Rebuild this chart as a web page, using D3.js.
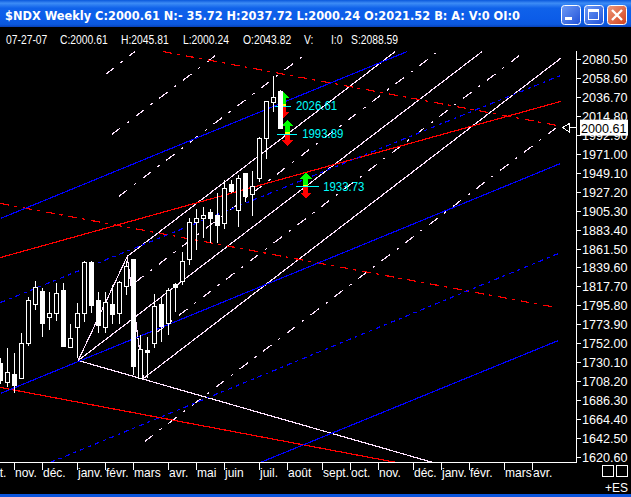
<!DOCTYPE html>
<html><head><meta charset="utf-8">
<script src="https://cdn.jsdelivr.net/npm/d3@7"></script>
<style>html,body{margin:0;padding:0;background:#000;overflow:hidden}svg{display:block}</style>
</head><body><svg id="c" width="631" height="497"></svg>
<script>
const titleText = "$NDX Weekly C:2000.61 N:- 35.72 H:2037.72 L:2000.24 O:2021.52 B: A: V:0 OI:0";
const headerItems = [["07-27-07",6],["C:2000.61",60],["H:2045.81",121],["L:2000.24",183],["O:2043.82",243],["V:",304],["I:0",331],["S:2088.59",351]];
const priceTicks = [2080.5,2058.6,2036.7,2014.8,1992.9,1971.0,1949.1,1927.2,1905.3,1883.4,1861.5,1839.6,1817.7,1795.8,1773.9,1752.0,1730.1,1708.2,1686.3,1664.4,1642.5,1620.6];
const monthLabels = ["oct.","nov.","déc.","janv.","févr.","mars","avr.","mai","juin","juil.","août","sept.","oct.","nov.","déc.","janv.","févr.","mars","avr."];
const monthIndex = [-2,2,6,11,15,19,24,28,32,37,41,46,50,54,59,63,67,72,76];
const opens = [1729.2,1707.3,1716.5,1711.9,1752.3,1797.4,1812.4,1782.4,1787.0,1813.6,1747.7,1770.8,1787.0,1845.9,1802.0,1770.8,1797.4,1787.0,1818.2,1849.4,1711.9,1744.2,1752.3,1797.4,1775.4,1820.5,1824.0,1849.4,1892.2,1896.8,1903.7,1900.2,1891.0,1936.1,1906.0,1948.8,1924.5,1943.0,1989.2,2030.8,2043.82];
const highs = [1735.0,1746.6,1740.8,1763.9,1805.5,1825.1,1815.9,1812.4,1822.8,1822.8,1775.4,1799.7,1847.1,1847.1,1811.3,1811.3,1819.4,1825.1,1848.2,1849.4,1761.6,1759.3,1809.0,1805.5,1815.9,1821.7,1857.5,1897.9,1907.2,1910.6,1907.2,1926.8,1941.8,1941.8,1947.6,1949.9,1952.2,1990.4,2033.1,2062.0,2045.81];
const lows = [1706.1,1702.6,1694.6,1711.9,1750.0,1790.5,1760.4,1767.4,1778.9,1748.9,1746.6,1735.0,1776.6,1787.0,1763.9,1765.0,1775.4,1775.4,1807.8,1715.4,1711.9,1711.9,1747.7,1753.5,1761.6,1788.2,1819.4,1843.6,1859.8,1874.8,1867.9,1867.9,1885.2,1925.7,1887.5,1915.3,1900.2,1939.5,1966.1,2019.3,2000.24];
const closes = [1709.6,1718.8,1703.8,1752.3,1802.0,1817.0,1775.4,1787.0,1810.1,1748.9,1758.1,1787.0,1845.9,1796.2,1773.1,1799.7,1785.8,1822.8,1841.3,1725.8,1745.4,1741.9,1795.1,1772.0,1813.6,1817.0,1847.1,1892.2,1896.8,1900.2,1896.8,1888.7,1931.4,1928.0,1943.0,1922.2,1933.8,1989.2,2032.0,2036.6,2000.61];
// Trend lines: [week index, price] end points
const redSolid = [[[0,1851.7],[80,2032.0]],[[0,1701.5],[56.6,1614.8]]];
const redDashed = [[[23.2,2089.7],[79.6,2004.2]],[[0,1914.1],[79.4,1793.9]]];
const blueSolid = [[[0,1896.8],[58.1,2089.7]],[[0,1694.6],[80,1960.3]],[[37.1,1614.8],[79.7,1755.8]]];
const blueDashed = [[[0,1799.7],[80,2062.0]],[[7.1,1614.8],[79.7,1856.3]]];
const forkSolid = [[[18.1,1852.9],[56.4,2089.7]],[[11.1,1732.7],[68.8,2089.7]],[[20.4,1711.9],[80,2081.7]],[[11.1,1732.7],[18.1,1852.9]],[[18.1,1852.9],[20.4,1711.9]],[[11.1,1732.7],[61.8,1614.8]]];
const forkDashed = [[[19.2,1822.8],[62.5,2089.7]],[[22.1,1763.9],[74.5,2087.4]],[[20.6,1639.1],[80,2005.4]],[[15,2063.2],[19.2,2089.7]],[[15.9,1993.8],[30.9,2086.3]],[[16.9,1922.2],[43.5,2086.3]]];
const markerIndex = [40.4,41,43.6];
const markerPrice = [2026.61,1993.89,1933.73];
const markerLineStart = [39.2,39.5,42.2];
const markerLineEnd = [41.5,42.4,45.5];
const markerLabelIndex = [42.2,43.1,46.1];
const lastPrice = 2000.61;

const FONT = "'Liberation Sans',Arial,sans-serif";
const svg = d3.select("#c");
const x = d3.scaleLinear().domain([0,80]).range([0.5,560.5]);
const y = d3.scaleLinear().domain([1620.6,2080.5]).range([457.5,59.5]);
const line = d3.line().x(d=>x(d[0])).y(d=>y(d[1]));
function narrow(sel,f){
  sel.each(function(){
    this.setAttribute("textLength",this.getComputedTextLength()*f);
    this.setAttribute("lengthAdjust","spacingAndGlyphs");
  });
}

// title bar
const defs = svg.append("defs");
const g = defs.append("linearGradient").attr("id","tb").attr("x1",0).attr("x2",0).attr("y1",0).attr("y2",1);
[[0,"#0a58dc"],[.12,"#3d8cf5"],[.3,"#0f62ea"],[.7,"#0c5ce8"],[.9,"#0b58dd"],[1,"#0840b8"]].forEach(s=>g.append("stop").attr("offset",s[0]).attr("stop-color",s[1]));
const bg = defs.append("linearGradient").attr("id","bb").attr("x1",0).attr("x2",1).attr("y1",0).attr("y2",1);
bg.append("stop").attr("offset",0).attr("stop-color","#6f9cf5"); bg.append("stop").attr("offset",1).attr("stop-color","#1f50d8");
const br = defs.append("linearGradient").attr("id","br").attr("x1",0).attr("x2",1).attr("y1",0).attr("y2",1);
br.append("stop").attr("offset",0).attr("stop-color","#ee9a7c"); br.append("stop").attr("offset",1).attr("stop-color","#d2401c");
svg.append("rect").attr("width",631).attr("height",497).attr("fill","#000");
svg.append("rect").attr("width",631).attr("height",27).attr("fill","url(#tb)");
svg.append("rect").attr("y",494).attr("width",631).attr("height",3).attr("fill","#0b55dc");
svg.append("text").text(titleText).attr("x",5).attr("y",20).attr("fill","#fff")
  .attr("font-family","'DejaVu Sans',sans-serif").attr("font-weight","bold").attr("font-size",12.5)
  .attr("textLength",515).attr("lengthAdjust","spacingAndGlyphs");
[[561,"url(#bb)"],[584,"url(#bb)"],[607,"url(#br)"]].forEach(b=>{
  svg.append("rect").attr("x",b[0]+.5).attr("y",5.5).attr("width",19).attr("height",19).attr("rx",3).attr("fill",b[1]).attr("stroke","#fff");
});
svg.append("rect").attr("x",565).attr("y",17).attr("width",7).attr("height",3).attr("fill","#fff");
svg.append("rect").attr("x",588.5).attr("y",9.5).attr("width",10).attr("height",10).attr("fill","none").attr("stroke","#fff");
svg.append("rect").attr("x",588).attr("y",9).attr("width",11).attr("height",3).attr("fill","#fff");
svg.append("path").attr("d","M612 10L622 20M622 10L612 20").attr("stroke","#fff").attr("stroke-width",2.4);

// header readout
narrow(svg.selectAll(".hd").data(headerItems).enter().append("text").text(d=>d[0]).attr("x",d=>d[1]).attr("y",44)
  .attr("fill","#fff").attr("font-family",FONT).attr("font-size",12),.86);

// plot
const clip = defs.append("clipPath").attr("id","pc");
clip.append("rect").attr("x",0).attr("y",50).attr("width",576).attr("height",412);
const plot = svg.append("g").attr("clip-path","url(#pc)").attr("shape-rendering","crispEdges");
function draw(data,color,dash){
  plot.append("g").selectAll("path").data(data).enter().append("path").attr("d",line)
    .attr("fill","none").attr("stroke",color).attr("stroke-width",1.2).attr("stroke-dasharray",dash||null);
}
draw(forkDashed,"#ffe4ff","10.5 8.4 2.5 8.4");
draw(forkSolid,"#ffe4ff");
draw(redDashed,"#ff0000","9 5 3 6");
draw(redSolid,"#ff0000");
draw(blueDashed,"#0000ff","5 4 3 4");
draw(blueSolid,"#0000ff");

// arrow markers
const mk = plot.append("g").selectAll("g").data(markerIndex).enter().append("g")
  .attr("transform",(d,i)=>`translate(${x(d)},${y(markerPrice[i])})`);
mk.append("path").attr("fill","#00ff00").attr("d","M-2.5 0V-8H-6L0 -14L6 -8H2.5V0Z");
mk.append("path").attr("fill","#ff0000").attr("d","M-2.5 0V6H-6L0 12L6 6H2.5V0Z");
mk.append("rect").attr("x",-2.5).attr("y",-2).attr("width",5).attr("height",2).attr("fill","#ffff00");
plot.append("g").selectAll("line").data(markerIndex).enter().append("line")
  .attr("x1",(d,i)=>x(markerLineStart[i])).attr("x2",(d,i)=>x(markerLineEnd[i]))
  .attr("y1",(d,i)=>Math.floor(y(markerPrice[i]))+.5).attr("y2",(d,i)=>Math.floor(y(markerPrice[i]))+.5)
  .attr("stroke","#00ffff");
narrow(svg.selectAll(".ml").data(markerIndex).enter().append("text")
  .text((d,i)=>markerPrice[i].toFixed(2))
  .attr("x",(d,i)=>x(markerLabelIndex[i])).attr("y",(d,i)=>y(markerPrice[i])+4)
  .attr("fill","#00ffff").attr("font-family",FONT).attr("font-size",12),.95);

// candles
const candles = plot.append("g").selectAll("g").data(opens).enter().append("g");
candles.append("line").attr("x1",(d,i)=>x(i)).attr("x2",(d,i)=>x(i)).attr("y1",(d,i)=>y(highs[i])).attr("y2",(d,i)=>y(lows[i])).attr("stroke","#fff");
candles.append("rect").attr("x",(d,i)=>x(i)-2).attr("width",4)
  .attr("y",(d,i)=>y(Math.max(opens[i],closes[i])))
  .attr("height",(d,i)=>Math.abs(y(opens[i])-y(closes[i])))
  .attr("fill",(d,i)=>closes[i]<opens[i]?"#fff":"#000").attr("stroke","#fff");

// axes
const axes = svg.append("g").attr("shape-rendering","crispEdges");
axes.append("line").attr("x1",576.5).attr("x2",576.5).attr("y1",51).attr("y2",462).attr("stroke","#fff");
axes.append("line").attr("x1",0).attr("x2",577).attr("y1",462.5).attr("y2",462.5).attr("stroke","#fff");
axes.selectAll(".yt").data(priceTicks).enter().append("line").attr("x1",576).attr("x2",581).attr("y1",d=>Math.floor(y(d))+.5).attr("y2",d=>Math.floor(y(d))+.5).attr("stroke","#fff");
narrow(svg.selectAll(".yl").data(priceTicks).enter().append("text").text(d=>d.toFixed(2)).attr("x",582).attr("y",d=>y(d)+4.5)
  .attr("fill","#fff").attr("font-family",FONT).attr("font-size",13),.97);
axes.selectAll(".xt").data(monthIndex).enter().append("line").attr("x1",d=>x(d)).attr("x2",d=>x(d)).attr("y1",462).attr("y2",470).attr("stroke","#fff");
narrow(svg.selectAll(".xl").data(monthIndex).enter().append("text").text((d,i)=>monthLabels[i]).attr("x",d=>x(d)+.5).attr("y",477)
  .attr("fill","#fff").attr("font-family",FONT).attr("font-size",13.5),.89);

// last price tag
const ly = y(lastPrice);
svg.append("rect").attr("x",580).attr("y",ly-9).attr("width",48).attr("height",16).attr("fill","#fff");
narrow(svg.append("text").text(lastPrice.toFixed(2)).attr("x",581).attr("y",ly+4).attr("fill","#000").attr("font-family",FONT).attr("font-size",13),.97);
svg.append("path").attr("d",`M576 ${ly-1}H569V${ly-5}L562.5 ${ly-1}L569 ${ly+3}V${ly-1}`).attr("fill","none").attr("stroke","#fff").attr("shape-rendering","crispEdges");

// corner boxes
[602.5,616.5].forEach(a=>svg.append("rect").attr("x",a).attr("y",465.5).attr("width",11).attr("height",11).attr("fill","none").attr("stroke","#fff").attr("shape-rendering","crispEdges"));
svg.append("text").text("+ES").attr("x",628).attr("y",492).attr("text-anchor","end").attr("fill","#fff").attr("font-family",FONT).attr("font-size",12);
</script></body></html>
